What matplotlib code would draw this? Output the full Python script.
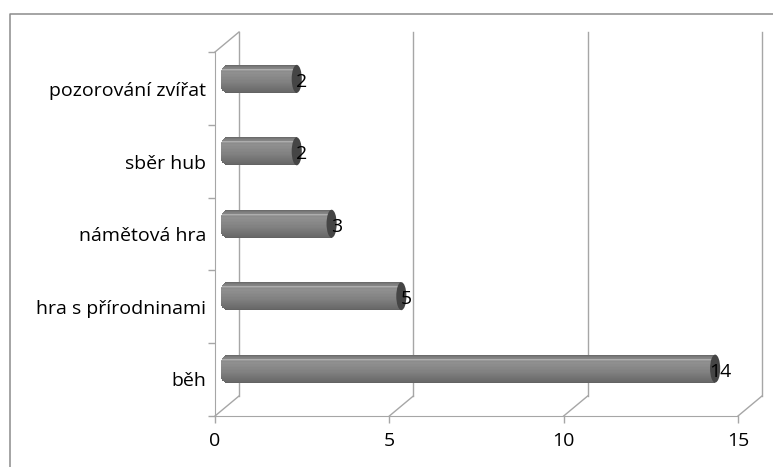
import matplotlib
matplotlib.use("Agg")
import matplotlib.pyplot as plt
from matplotlib.patches import Ellipse
from matplotlib.transforms import ScaledTranslation

categories = ["běh", "hra s přírodninami", "námětová hra", "sběr hub", "pozorování zvířat"]
values = [14, 5, 3, 2, 2]
x_ticks = [0, 5, 10, 15]

# gray level of each horizontal strip of a bar, top to bottom
strip_grays = [0.42, 0.47, 0.50, 0.52, 0.68, 0.60, 0.55, 0.56, 0.56, 0.55, 0.55, 0.54, 0.53, 0.53,
               0.52, 0.51, 0.51, 0.50, 0.49, 0.48, 0.47, 0.46, 0.45, 0.44, 0.43, 0.42, 0.41, 0.39]
strip_insets = [0.12, 0.08, 0.05, 0.03, 0.02, 0.01, 0, 0, 0, 0, 0, 0, 0, 0,
                0, 0, 0, 0, 0, 0, 0, 0, 0, 0.01, 0.02, 0.04, 0.07, 0.11]

W, H = 773, 467
GRID = "#a6a6a6"
FS = 14

fig = plt.figure(figsize=(W / 100, H / 100), dpi=100)
plt.rcParams["font.family"] = ["Open Sans", "DejaVu Sans"]

# chart border, only top and left are visible in the crop
frame = fig.add_axes([0, 0, 1, 1])
frame.set_xlim(0, W)
frame.set_ylim(H, 0)
frame.axis("off")
frame.plot([10, 10, W], [H, 14, 14], color="#8c8c8c", lw=1.1)

# front plane of the fake 3d box
left, right, top, bottom = 215, 738, 52, 416
ax = fig.add_axes([left / W, 1 - bottom / H, (right - left) / W, (bottom - top) / H])
ax.set_xlim(0, 15)
ax.set_ylim(0, 5)
ax.patch.set_alpha(0)
ax.spines["top"].set_visible(False)
ax.spines["right"].set_visible(False)
ax.spines["left"].set_color(GRID)
ax.spines["bottom"].set_color(GRID)

ax.set_xticks(x_ticks)
ax.set_xticklabels([str(t) for t in x_ticks], fontsize=FS, color="black")
ax.set_yticks(range(6))
ax.set_yticklabels([])
ax.tick_params(axis="both", color=GRID, length=5, width=1)
ax.tick_params(axis="x", pad=6.5)

depth_back = ScaledTranslation(0.24, 0.20, fig.dpi_scale_trans)
depth_mid = ScaledTranslation(0.12, 0.11, fig.dpi_scale_trans)
back = ax.transData + depth_back
mid = ax.transData + depth_mid

# back wall gridlines and depth lines
dx, dy = 24 / 34.87, 20 / 72.8
for t in x_ticks:
    ax.plot([t, t], [0, 5], color=GRID, lw=1, transform=back, clip_on=False, zorder=1)
    ax.plot([t, t + dx], [0, dy], color=GRID, lw=1, clip_on=False, zorder=1)
ax.plot([0, dx], [5, 5 + dy], color=GRID, lw=1, clip_on=False, zorder=1)

bar_h = 28 / 72.8
pitch = 0.995
n = len(strip_grays)
for i, (name, v) in enumerate(zip(categories, values)):
    yc = 0.5 + i * pitch
    for j, g in enumerate(strip_grays):
        y0 = yc + bar_h / 2 - (j + 1) * bar_h / n
        ax.barh(y0, v + 0.17 - strip_insets[j], left=strip_insets[j] - 0.17, height=bar_h / n * 1.05,
                align="edge", color=str(g), lw=0, transform=mid, zorder=3, clip_on=False)
    ax.add_patch(Ellipse((v, yc), 0.29, bar_h, fc="#454545", ec="none", transform=mid, zorder=4, clip_on=False))
    ax.text(v + 0.15, yc - 0.04, str(v), ha="center", va="center", fontsize=FS, color="black",
            transform=mid, zorder=5, clip_on=False)
    ax.text(-0.25, yc - 0.02, name, ha="right", va="center", fontsize=FS, color="black", clip_on=False)

fig.savefig("out.png", dpi=100)
